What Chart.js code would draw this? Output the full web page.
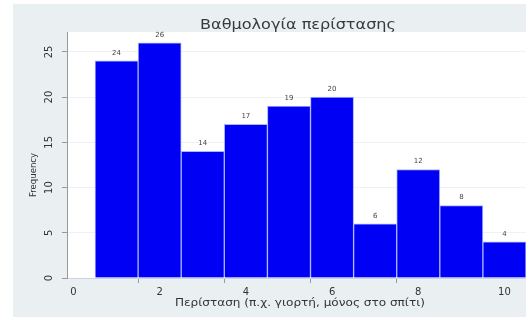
<!DOCTYPE html>
<html>
<head>
<meta charset="utf-8">
<script src="https://cdn.jsdelivr.net/npm/chart.js@4"></script>
<style>
  html, body { margin: 0; padding: 0; background: #ffffff; }
  #wrap { width: 526px; height: 317px; }
</style>
</head>
<body>
<div id="wrap"><canvas id="histChart" width="526" height="317"></canvas></div>
<script>
// ===== DATOS =====
const categories = [1, 2, 3, 4, 5, 6, 7, 8, 9, 10];
const frequencies = [24, 26, 14, 17, 19, 20, 6, 12, 8, 4];
const xTicks = [0, 2, 4, 6, 8, 10];
const yTicks = [0, 5, 10, 15, 20, 25];
const titleText = 'Βαθμολογία περίστασης';
const xTitle = 'Περίσταση (π.χ. γιορτή, μόνος στο σπίτι)';
const yTitle = 'Frequency';

const FONT = '"DejaVu Sans", "Liberation Sans", sans-serif';

// texto estirado horizontalmente hasta un ancho dado (fuente ancha de Stata)
function wideText(ctx, text, cx, cy, width) {
    const w = ctx.measureText(text).width;
    ctx.save();
    ctx.translate(cx, cy);
    ctx.scale(width / w, 1);
    ctx.fillText(text, 0, 0);
    ctx.restore();
}

// fondo gris de Stata + zona blanca del gráfico
const backgroundPlugin = {
    id: 'statabg',
    beforeDraw(chart) {
        const ctx = chart.ctx;
        const a = chart.chartArea;
        ctx.save();
        ctx.fillStyle = '#eaf0f2';
        ctx.fillRect(13, 4, chart.width - 13, chart.height - 4);
        ctx.fillStyle = '#ffffff';
        ctx.fillRect(a.left, a.top, a.right - a.left, a.bottom - a.top);
        ctx.restore();
    }
};

// textos: título, etiquetas de ejes, valores sobre las barras
const textPlugin = {
    id: 'statatext',
    afterDraw(chart) {
        const ctx = chart.ctx;
        const a = chart.chartArea;
        const xs = chart.scales.x;
        const ys = chart.scales.y;
        ctx.save();
        ctx.textAlign = 'center';
        ctx.textBaseline = 'middle';

        ctx.fillStyle = '#3a3a3a';
        ctx.font = '14px ' + FONT;
        wideText(ctx, titleText, 298, 25, 196);

        // etiquetas eje x
        ctx.fillStyle = '#333';
        ctx.font = '10px ' + FONT;
        xTicks.forEach(v => ctx.fillText(String(v), xs.getPixelForValue(v), 292));
        wideText(ctx, xTitle, 300, 303, 250);

        // etiquetas eje y (giradas)
        yTicks.forEach(v => {
            ctx.save();
            ctx.translate(49, ys.getPixelForValue(v));
            ctx.rotate(-Math.PI / 2);
            ctx.fillText(String(v), 0, 0);
            ctx.restore();
        });
        ctx.save();
        ctx.translate(34, 175);
        ctx.rotate(-Math.PI / 2);
        ctx.font = '9px ' + FONT;
        wideText(ctx, yTitle, 0, 0, 44);
        ctx.restore();

        // valores sobre barras
        ctx.font = '7px ' + FONT;
        ctx.fillStyle = '#444';
        const meta = chart.getDatasetMeta(0);
        meta.data.forEach((bar, i) => {
            ctx.fillText(String(frequencies[i]), bar.x, bar.y - 8);
        });
        ctx.restore();
    }
};

const ctx = document.getElementById('histChart').getContext('2d');
new Chart(ctx, {
    type: 'bar',
    data: {
        datasets: [{
            data: categories.map((c, i) => ({ x: c, y: frequencies[i] })),
            backgroundColor: '#0000f5',
            borderColor: '#aab4ff',
            borderWidth: 1,
            barPercentage: 1,
            categoryPercentage: 1
        }]
    },
    options: {
        responsive: false,
        animation: false,
        layout: { padding: { top: 32, left: 0, right: 0, bottom: 0 } },
        plugins: {
            legend: { display: false },
            tooltip: { enabled: false },
            title: { display: false }
        },
        scales: {
            x: {
                type: 'linear',
                min: -0.15,
                max: 10.5,
                offset: false,
                ticks: { display: false, stepSize: 1 },
                afterFit: s => { s.height = 39; },
                grid: {
                    drawOnChartArea: false,
                    drawTicks: true,
                    tickLength: 5,
                    tickColor: c => (xTicks.includes(c.tick && c.tick.value) ? '#999' : 'rgba(0,0,0,0)')
                },
                border: { display: true, color: '#c8d2e8' }
            },
            y: {
                min: 0,
                max: 27.2,
                ticks: { display: false, stepSize: 5 },
                afterFit: s => { s.width = 67; },
                grid: {
                    color: c => (yTicks.includes(c.tick && c.tick.value) ? '#eef2f4' : 'rgba(0,0,0,0)'),
                    lineWidth: 1,
                    drawTicks: true,
                    tickLength: 5,
                    tickColor: c => (yTicks.includes(c.tick && c.tick.value) ? '#999' : 'rgba(0,0,0,0)')
                },
                border: { display: true, color: '#9a9a9a' }
            }
        }
    },
    plugins: [backgroundPlugin, textPlugin]
});
</script>
</body>
</html>
